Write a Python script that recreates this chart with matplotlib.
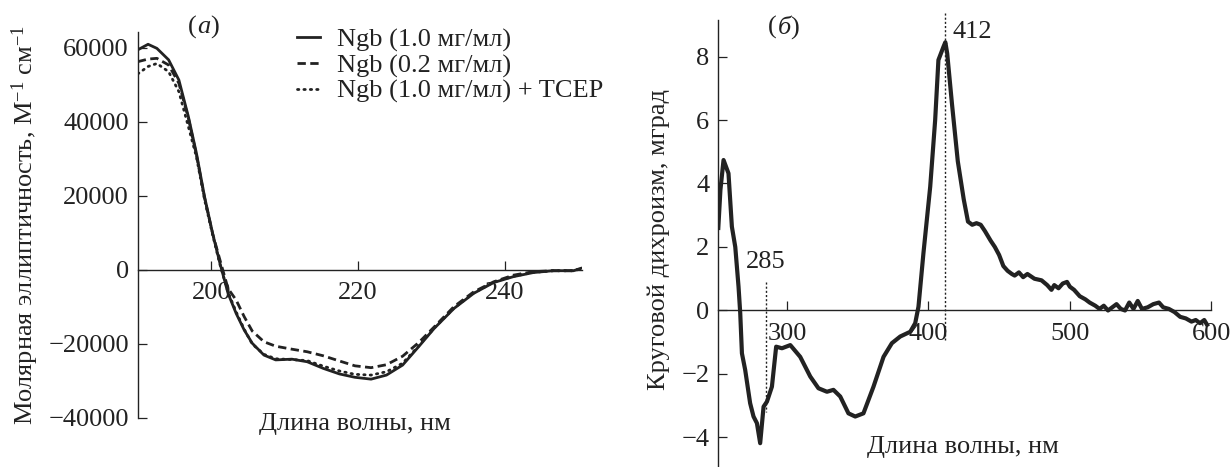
import numpy as np
import matplotlib.pyplot as plt
from matplotlib.ticker import FixedLocator

plt.rcParams['font.family'] = ['Liberation Serif', 'DejaVu Serif']
plt.rcParams['mathtext.fontset'] = 'custom'
plt.rcParams['mathtext.rm'] = 'Liberation Serif'
plt.rcParams['mathtext.it'] = 'Liberation Serif:italic'
plt.rcParams['axes.unicode_minus'] = True

INK = '#222222'
FS = 19

# (a) far-UV CD spectra, molar ellipticity
wl_a = [190.0, 191.4, 192.6, 194.2, 195.6, 196.9, 198.0, 199.1, 200.2, 201.2,
        202.3, 203.4, 204.5, 205.6, 207.2, 208.8, 211.0, 213.1, 215.3, 217.5,
        219.6, 221.8, 223.9, 226.1, 228.3, 230.4, 233.1, 235.8, 238.5, 241.2,
        243.9, 246.6, 249.4, 250.4]
ngb_10 = [59500, 61000, 59900, 56800, 51350, 41400, 31500, 19800, 9900, 1800,
          -6300, -11700, -16200, -19800, -23000, -24300, -24100, -24800, -26600, -28100,
          -29000, -29500, -28400, -25700, -20700, -15800, -10400, -6300, -3400, -1800,
          -700, -200, -200, 450]
ngb_02 = [56300, 57000, 57200, 55400, 50450, 41000, 31000, 19500, 9800, 2700,
          -5000, -8100, -12600, -16500, -19400, -20600, -21400, -22100, -23200, -24600,
          -25900, -26400, -25600, -23300, -19600, -15400, -9900, -5900, -3200, -1400,
          -450, -200, -200, 300]
ngb_tcep = [53000, 55000, 55800, 53600, 48200, 38700, 30500, 19000, 9500, 1500,
            -6000, -11300, -16000, -20000, -22800, -24000, -24200, -24500, -26000, -27300,
            -28200, -28400, -27500, -25200, -20500, -15700, -10300, -6200, -3300, -1700,
            -650, -200, -200, 400]

# (б) visible/near-UV CD spectrum
wl_b = [251.5, 253.0, 255.2, 258.7, 261.1, 263.5, 265.8, 267.0, 268.2, 270.5,
        274.0, 276.4, 278.8, 281.1, 283.5, 285.9, 289.4, 292.4, 296.5, 302.4,
        309.4, 316.5, 322.3, 328.3, 332.9, 337.7, 343.5, 348.3, 354.1, 361.2,
        368.3, 374.2, 380.1, 387.2, 390.7, 393.0, 396.5, 401.3, 404.8, 407.1,
        410.7, 412.0, 413.3, 416.7, 420.8, 425.0, 428.0, 431.0, 434.0, 437.0,
        440.0, 444.0, 447.0, 450.0, 453.0, 456.0, 459.0, 461.0, 464.0, 467.0,
        470.0, 475.0, 480.0, 484.0, 487.0, 489.0, 492.0, 495.0, 498.0, 500.0,
        503.0, 507.0, 511.0, 514.0, 518.0, 521.0, 524.0, 527.0, 530.0, 533.0,
        536.0, 539.0, 542.0, 545.0, 548.0, 551.0, 555.0, 559.0, 563.0, 566.0,
        570.0, 574.0, 578.0, 582.0, 586.0, 589.0, 592.0, 595.0, 597.0]
cd_b = [2.6, 3.8, 4.74, 4.32, 2.64, 2.0, 0.75, -0.08, -1.35, -1.87,
        -2.92, -3.34, -3.55, -4.18, -3.03, -2.87, -2.4, -1.14, -1.19, -1.09,
        -1.46, -2.08, -2.45, -2.56, -2.5, -2.71, -3.24, -3.34, -3.24, -2.4,
        -1.46, -1.03, -0.82, -0.67, -0.4, 0.12, 1.8, 3.9, 6.0, 7.89,
        8.31, 8.45, 8.1, 6.5, 4.7, 3.5, 2.8, 2.7, 2.75, 2.7,
        2.5, 2.2, 2.0, 1.75, 1.4, 1.25, 1.15, 1.1, 1.2, 1.05,
        1.15, 1.0, 0.95, 0.8, 0.65, 0.8, 0.7, 0.85, 0.9, 0.75,
        0.65, 0.45, 0.35, 0.25, 0.15, 0.05, 0.15, 0.0, 0.1, 0.2,
        0.05, 0.0, 0.25, 0.05, 0.3, 0.05, 0.1, 0.2, 0.25, 0.1,
        0.05, -0.05, -0.2, -0.25, -0.35, -0.3, -0.4, -0.3, -0.45]
marks_b = [285, 412]

W, H = 1231, 467
fig = plt.figure(figsize=(W / 100, H / 100), dpi=100)


def style_axes(ax):
    for s in ('top', 'right'):
        ax.spines[s].set_visible(False)
    ax.spines['bottom'].set_position(('data', 0))
    for s in ('left', 'bottom'):
        ax.spines[s].set_color(INK)
        ax.spines[s].set_linewidth(1.0)
    ax.tick_params(axis='both', direction='in', length=6.5, width=0.9,
                   color=INK, labelcolor=INK, labelsize=FS)
    ax.tick_params(axis='x', pad=9.0)
    ax.tick_params(axis='y', pad=6.5)
    ax.patch.set_alpha(0)


def minus_fmt(v, pos):
    return f'{int(v)}'.replace('-', '\u2212')


# panel (a)
ax1 = fig.add_axes([137.8 / W, 1 - 418 / H, 443.8 / W, (418 - 31.7) / H])
ax1.plot(wl_a, ngb_10, color=INK, lw=2.0, ls='-', label='Ngb (1.0 мг/мл)')
ax1.plot(wl_a, ngb_02, color=INK, lw=2.0, ls=(0, (3.0, 1.6)), label='Ngb (0.2 мг/мл)')
ax1.plot(wl_a, ngb_tcep, color=INK, lw=2.0, ls=(0, (0.5, 1.8)),
         dash_capstyle='round', label='Ngb (1.0 мг/мл) + TCEP')
ax1.set_xlim(190, 250.5)
ax1.set_ylim(-40000, 64400)
style_axes(ax1)
ax1.xaxis.set_major_locator(FixedLocator([200, 220, 240]))
ax1.yaxis.set_major_locator(FixedLocator([-40000, -20000, 0, 20000, 40000, 60000]))
ax1.yaxis.set_major_formatter(minus_fmt)
ax1.legend(loc='upper left', bbox_to_anchor=(296.7 / W, 1 - 28 / H),
           bbox_transform=fig.transFigure, frameon=False, fontsize=FS,
           handlelength=0.88, handletextpad=0.63, labelspacing=0.07,
           borderpad=0, borderaxespad=0, labelcolor=INK)

fig.text(197 / W, 1 - 27 / H, '(', fontsize=FS, color=INK, ha='right', va='center')
fig.text(197 / W, 1 - 27 / H, '$\\it{a}$)', fontsize=FS, color=INK, ha='left', va='center')
fig.text(355 / W, 1 - 424 / H, 'Длина волны, нм', fontsize=FS, color=INK,
         ha='center', va='center')
fig.text(25 / W, 1 - 225 / H, 'Молярная эллиптичность, М$^{\u22121}$ см$^{\u22121}$',
         fontsize=FS, color=INK, rotation=90, ha='center', va='center')

# panel (б)
ax2 = fig.add_axes([718.3 / W, 0, 493 / W, 447 / H])
ax2.plot(wl_b, cd_b, color=INK, lw=3.0, solid_joinstyle='round')
ax2.set_xlim(251.5, 600)
ax2.set_ylim(-4.93, 9.15)
style_axes(ax2)
ax2.xaxis.set_major_locator(FixedLocator([300, 400, 500, 600]))
ax2.yaxis.set_major_locator(FixedLocator([-4, -2, 0, 2, 4, 6, 8]))
ax2.yaxis.set_major_formatter(minus_fmt)

ax2.plot([marks_b[0]] * 2, [0.9, -3.2], color=INK, lw=1.0, ls=(0, (1.5, 1.5)))
ax2.plot([marks_b[1]] * 2, [9.37, -0.93], color=INK, lw=1.0, ls=(0, (1.5, 1.5)),
         clip_on=False)
fig.text(766 / W, 1 - 261.7 / H, str(marks_b[0]), fontsize=FS, color=INK,
         ha='center', va='center')
fig.text(972 / W, 1 - 32 / H, str(marks_b[1]), fontsize=FS, color=INK,
         ha='center', va='center')

fig.text(777 / W, 1 - 27 / H, '(', fontsize=FS, color=INK, ha='right', va='center')
fig.text(777 / W, 1 - 27 / H, '$\\it{б}$)', fontsize=FS, color=INK, ha='left', va='center')
fig.text(963 / W, 1 - 447 / H, 'Длина волны, нм', fontsize=FS, color=INK,
         ha='center', va='center')
fig.text(659 / W, 1 - 240 / H, 'Круговой дихроизм, мград', fontsize=FS, color=INK,
         rotation=90, ha='center', va='center')

fig.savefig('out.png', dpi=100)
